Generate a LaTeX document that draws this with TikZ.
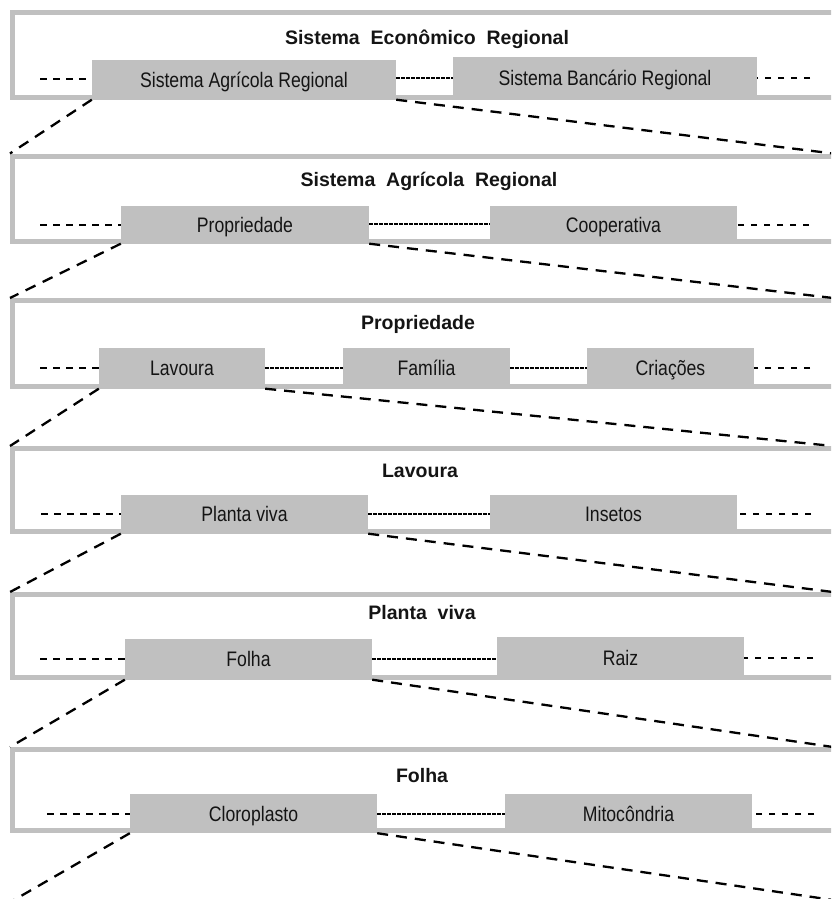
\documentclass[tikz,border=0pt]{standalone}
\usepackage{fontspec}
\setmainfont{Liberation Sans}
\newfontfamily\boxfont[FakeStretch=0.84]{Liberation Sans}
\newfontfamily\titlefont[WordSpace=2.0]{Liberation Sans}
\definecolor{panelgray}{RGB}{192,192,192}
\definecolor{inkc}{RGB}{20,20,20}
\tikzset{
  frm/.style={draw=panelgray, line width=5pt, fill=white, inner sep=0pt},
  gbox/.style={fill=panelgray, inner sep=0pt, text=inkc, text height=15pt, text depth=0pt,
    font=\boxfont\fontsize{21}{24}\selectfont},
  ttl/.style={anchor=base, inner sep=0pt, text=inkc,
    font=\titlefont\bfseries\fontsize{19.5}{23}\selectfont},
  sdash/.style={draw=black, line width=1.8pt, dash pattern=on 6.5pt off 6.5pt},
  ddash/.style={draw=black, line width=2pt, dash pattern=on 4pt off 1pt},
  bdash/.style={draw=black, line width=2.3pt, dash pattern=on 11pt off 8pt},
}
\begin{document}
\begin{tikzpicture}[x=1pt, y=-1pt]
\useasboundingbox (0,0) rectangle (831,899);
\clip (0,0) rectangle (831,899);
\coordinate (xr) at (833,0);

% frames
\node[frm, minimum width=833.5pt, minimum height=84.5pt] (f1) at (429.25,54.75) {};
\node[frm, minimum width=833.5pt, minimum height=85pt]   (f2) at (429.25,198.5) {};
\node[frm, minimum width=833.5pt, minimum height=85.5pt] (f3) at (429.25,343.25) {};
\node[frm, minimum width=833.5pt, minimum height=82.5pt] (f4) at (429.25,489.75) {};
\node[frm, minimum width=833.5pt, minimum height=82.5pt] (f5) at (429.25,635.75) {};
\node[frm, minimum width=833.5pt, minimum height=81pt]   (f6) at (429.25,790) {};

% titles
\node[ttl] (t1) at (427,45)  {Sistema Econômico Regional};
\node[ttl] (t2) at (429,186) {Sistema Agrícola Regional};
\node[ttl] (t3) at (418,329) {Propriedade};
\node[ttl] (t4) at (420,477) {Lavoura};
\node[ttl] (t5) at (422,619) {Planta viva};
\node[ttl] (t6) at (422,782) {Folha};

% grey boxes
\node[gbox, minimum width=304pt, minimum height=39.5pt] (sar)  at (244,79.75)  {Sistema Agrícola Regional};
\node[gbox, minimum width=304pt, minimum height=42.5pt] (sbr)  at (605,78.25)  {Sistema Bancário Regional};
\node[gbox, minimum width=248pt, minimum height=37.5pt] (prop) at (245,224.75) {Propriedade};
\node[gbox, minimum width=247pt, minimum height=37.5pt] (coop) at (613.5,224.75) {Cooperativa};
\node[gbox, minimum width=166pt, minimum height=40.5pt] (lav)  at (182,368.25) {Lavoura};
\node[gbox, minimum width=167pt, minimum height=40.5pt] (fam)  at (426.5,368.25) {Família};
\node[gbox, minimum width=167pt, minimum height=40.5pt] (cri)  at (670.5,368.25) {Criações};
\node[gbox, minimum width=247pt, minimum height=38.5pt] (pv)   at (244.5,514.25) {Planta viva};
\node[gbox, minimum width=247pt, minimum height=38.5pt] (ins)  at (613.5,514.25) {Insetos};
\node[gbox, minimum width=247pt, minimum height=40.5pt] (fol)  at (248.5,659.25) {Folha};
\node[gbox, minimum width=247pt, minimum height=42.5pt] (raiz) at (620.5,658.25) {Raiz};
\node[gbox, minimum width=247pt, minimum height=39pt]   (clo)  at (253.5,813.5) {Cloroplasto};
\node[gbox, minimum width=247pt, minimum height=39pt]   (mito) at (628.5,813.5) {Mitocôndria};

% free ends of the short dashed lines
\coordinate (l1) at (40,79);   \coordinate (r1) at (810,78);
\coordinate (l2) at (40,225);  \coordinate (r2) at (809,225);
\coordinate (l3) at (40,368);  \coordinate (r3) at (810,368);
\coordinate (l4) at (41,514);  \coordinate (r4) at (811,514);
\coordinate (l5) at (40,659);  \coordinate (r5) at (813,658);
\coordinate (l6) at (47,814);  \coordinate (r6) at (814,814);
\coordinate (e1) at (14,900);  \coordinate (e2) at (833,900);

% short side dashes
\draw[sdash] (l1) -- (l1 -| sar.west);  \draw[sdash] (r1) -- (r1 -| sbr.east);
\draw[sdash] (l2) -- (l2 -| prop.west); \draw[sdash] (r2) -- (r2 -| coop.east);
\draw[sdash] (l3) -- (l3 -| lav.west);  \draw[sdash] (r3) -- (r3 -| cri.east);
\draw[sdash] (l4) -- (l4 -| pv.west);   \draw[sdash] (r4) -- (r4 -| ins.east);
\draw[sdash] (l5) -- (l5 -| fol.west);  \draw[sdash] (r5) -- (r5 -| raiz.east);
\draw[sdash] (l6) -- (l6 -| clo.west);  \draw[sdash] (r6) -- (r6 -| mito.east);

% dense links between boxes
\draw[ddash] (sar.east |- 0,78)  -- (sbr.west |- 0,78);
\draw[ddash] (prop.east |- 0,224) -- (coop.west |- 0,224);
\draw[ddash] (lav.east |- 0,368)  -- (fam.west |- 0,368);
\draw[ddash] (fam.east |- 0,368)  -- (cri.west |- 0,368);
\draw[ddash] (pv.east |- 0,514)   -- (ins.west |- 0,514);
\draw[ddash] (fol.east |- 0,659)  -- (raiz.west |- 0,659);
\draw[ddash] (clo.east |- 0,814)  -- (mito.west |- 0,814);

% zoom lines
\draw[bdash] (sar.south west)  -- (f2.north west);
\draw[bdash] (sar.south east)  -- (f2.north west -| xr);
\draw[bdash] (prop.south west) -- (f3.north west);
\draw[bdash] (prop.south east) -- (f3.north west -| xr);
\draw[bdash] (lav.south west)  -- (f4.north west);
\draw[bdash] (lav.south east)  -- (f4.north west -| xr);
\draw[bdash] (pv.south west)   -- (f5.north west);
\draw[bdash] (pv.south east)   -- (f5.north west -| xr);
\draw[bdash] (fol.south west)  -- (f6.north west);
\draw[bdash] (fol.south east)  -- (f6.north west -| xr);
\draw[bdash] (clo.south west)  -- (e1);
\draw[bdash] (clo.south east)  -- (e2);
\end{tikzpicture}
\end{document}
